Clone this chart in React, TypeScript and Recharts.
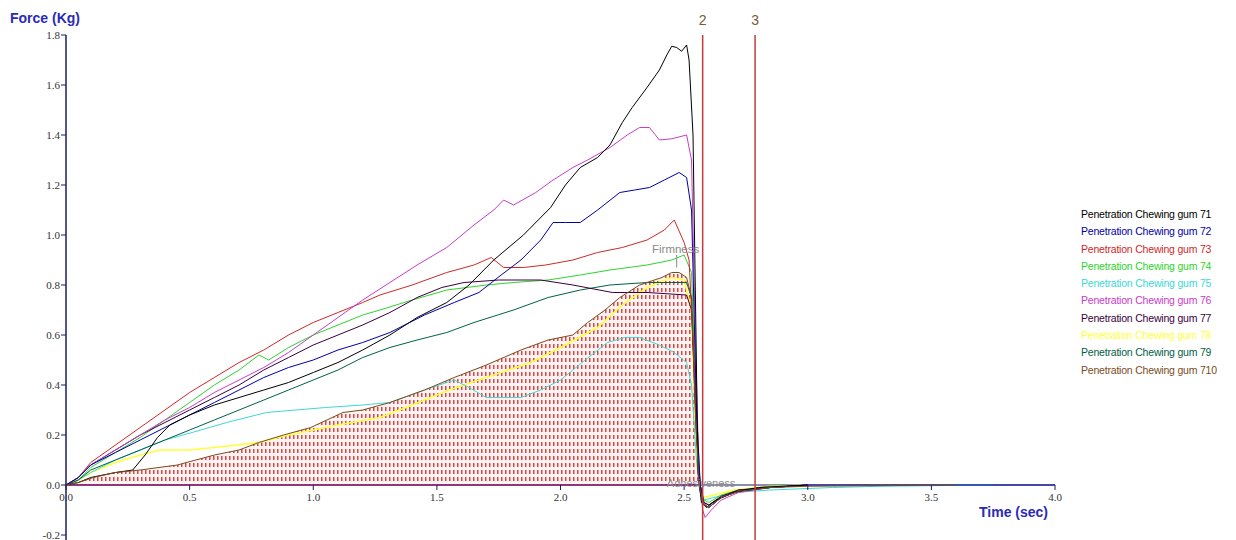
import React from 'react';
import { ComposedChart, Line, Area, XAxis, YAxis, ReferenceLine, ReferenceDot } from 'recharts';

// [time (sec), force (kg)]
const gum71 = [
    [0, 0], [0.05, 0.01], [0.1, 0.03], [0.2, 0.05], [0.27, 0.06], [0.32, 0.12], [0.37, 0.19], [0.42, 0.24],
    [0.5, 0.28], [0.6, 0.32], [0.7, 0.35], [0.8, 0.38], [0.9, 0.41], [1.0, 0.45], [1.1, 0.49], [1.2, 0.54],
    [1.31, 0.6], [1.42, 0.67], [1.54, 0.73], [1.63, 0.8], [1.73, 0.9], [1.85, 1.0], [1.96, 1.11], [2.02, 1.2],
    [2.08, 1.27], [2.15, 1.31], [2.2, 1.36], [2.25, 1.45], [2.29, 1.51], [2.35, 1.59], [2.4, 1.66], [2.43, 1.72],
    [2.45, 1.755], [2.47, 1.75], [2.49, 1.735], [2.51, 1.76], [2.52, 1.7], [2.536, 1.4], [2.548, 0.6], [2.556, 0.05],
    [2.57, -0.07], [2.59, -0.09], [2.63, -0.06], [2.7, -0.03], [2.8, -0.01], [3.0, 0],
];
const gum72 = [
    [0, 0], [0.05, 0.03], [0.1, 0.08], [0.2, 0.13], [0.3, 0.18], [0.4, 0.23], [0.5, 0.28], [0.6, 0.33],
    [0.7, 0.38], [0.8, 0.43], [0.9, 0.47], [1.0, 0.5], [1.1, 0.54], [1.2, 0.57], [1.31, 0.61], [1.45, 0.68],
    [1.57, 0.73], [1.67, 0.77], [1.76, 0.84], [1.84, 0.9], [1.92, 0.98], [1.97, 1.05], [2.02, 1.05], [2.08, 1.05],
    [2.15, 1.1], [2.24, 1.17], [2.3, 1.18], [2.36, 1.19], [2.42, 1.22], [2.48, 1.25], [2.51, 1.23], [2.53, 1.1],
    [2.55, 0.3], [2.565, 0], [2.58, -0.08], [2.6, -0.09], [2.65, -0.05], [2.72, -0.025], [2.85, -0.01], [3.0, 0], [4.0, 0],
];
const gum73 = [
    [0, 0], [0.05, 0.03], [0.1, 0.09], [0.2, 0.16], [0.3, 0.23], [0.4, 0.3], [0.5, 0.37], [0.6, 0.43],
    [0.7, 0.49], [0.8, 0.54], [0.9, 0.6], [1.0, 0.65], [1.1, 0.69], [1.2, 0.73], [1.27, 0.76], [1.4, 0.8],
    [1.54, 0.85], [1.65, 0.88], [1.72, 0.91], [1.77, 0.87], [1.85, 0.87], [1.94, 0.88], [2.05, 0.9], [2.15, 0.93],
    [2.25, 0.95], [2.35, 0.98], [2.42, 1.02], [2.46, 1.06], [2.5, 0.97], [2.52, 0.9], [2.545, 0.4], [2.56, 0],
    [2.575, -0.07], [2.6, -0.09], [2.65, -0.05], [2.72, -0.025], [2.85, -0.01], [3.0, 0],
];
const gum74 = [
    [0, 0], [0.05, 0.02], [0.1, 0.07], [0.2, 0.13], [0.3, 0.19], [0.4, 0.26], [0.5, 0.33], [0.6, 0.4],
    [0.7, 0.46], [0.78, 0.52], [0.82, 0.5], [0.9, 0.55], [1.0, 0.6], [1.1, 0.64], [1.2, 0.68], [1.27, 0.7],
    [1.4, 0.74], [1.54, 0.78], [1.7, 0.8], [1.81, 0.81], [1.95, 0.82], [2.08, 0.84], [2.2, 0.86], [2.35, 0.88],
    [2.45, 0.9], [2.5, 0.92], [2.53, 0.85], [2.55, 0.3], [2.565, 0], [2.58, -0.06], [2.6, -0.07], [2.65, -0.04],
    [2.72, -0.02], [2.85, -0.005], [3.0, 0],
];
const gum75 = [
    [0, 0], [0.05, 0.02], [0.1, 0.05], [0.2, 0.1], [0.3, 0.14], [0.4, 0.18], [0.51, 0.21], [0.65, 0.25],
    [0.81, 0.29], [1.05, 0.31], [1.2, 0.32], [1.31, 0.33], [1.45, 0.38], [1.57, 0.42], [1.63, 0.39], [1.7, 0.35],
    [1.84, 0.35], [1.92, 0.38], [2.0, 0.42], [2.1, 0.5], [2.19, 0.57], [2.26, 0.59], [2.32, 0.59], [2.4, 0.56],
    [2.46, 0.53], [2.51, 0.49], [2.53, 0.4], [2.55, 0.1], [2.565, -0.03], [2.58, -0.06], [2.62, -0.05], [2.7, -0.03],
    [2.85, -0.02], [3.1, -0.01], [3.3, -0.005], [3.75, 0],
];
const gum76 = [
    [0, 0], [0.05, 0.03], [0.1, 0.08], [0.2, 0.14], [0.3, 0.2], [0.4, 0.26], [0.5, 0.31], [0.6, 0.37],
    [0.7, 0.42], [0.8, 0.47], [0.9, 0.53], [1.0, 0.6], [1.1, 0.67], [1.2, 0.74], [1.31, 0.81], [1.42, 0.88],
    [1.54, 0.95], [1.65, 1.04], [1.73, 1.1], [1.77, 1.14], [1.81, 1.12], [1.9, 1.17], [1.97, 1.22], [2.05, 1.27],
    [2.11, 1.3], [2.2, 1.35], [2.27, 1.4], [2.32, 1.43], [2.36, 1.43], [2.4, 1.38], [2.45, 1.385], [2.51, 1.4],
    [2.53, 1.3], [2.545, 0.6], [2.56, 0.05], [2.575, -0.1], [2.585, -0.13], [2.61, -0.1], [2.65, -0.06], [2.72, -0.03],
    [2.85, -0.01], [3.0, 0],
];
const gum77 = [
    [0, 0], [0.05, 0.03], [0.1, 0.08], [0.2, 0.14], [0.3, 0.2], [0.4, 0.25], [0.5, 0.3], [0.6, 0.35],
    [0.7, 0.4], [0.8, 0.46], [0.9, 0.51], [1.0, 0.56], [1.1, 0.6], [1.2, 0.64], [1.31, 0.69], [1.42, 0.75],
    [1.52, 0.79], [1.61, 0.81], [1.75, 0.82], [1.92, 0.82], [2.05, 0.8], [2.21, 0.77], [2.35, 0.77], [2.51, 0.76],
    [2.53, 0.7], [2.55, 0.2], [2.565, 0], [2.58, -0.07], [2.6, -0.08], [2.65, -0.045], [2.72, -0.02], [2.85, -0.01], [3.0, 0],
];
const gum78 = [
    [0, 0], [0.05, 0.02], [0.1, 0.05], [0.2, 0.09], [0.3, 0.12], [0.38, 0.14], [0.5, 0.14], [0.6, 0.15],
    [0.78, 0.17], [0.9, 0.2], [1.0, 0.22], [1.1, 0.24], [1.27, 0.27], [1.4, 0.32], [1.55, 0.38], [1.7, 0.43],
    [1.88, 0.49], [2.0, 0.55], [2.15, 0.63], [2.25, 0.72], [2.35, 0.79], [2.45, 0.83], [2.5, 0.82], [2.53, 0.7],
    [2.55, 0.1], [2.565, -0.02], [2.58, -0.05], [2.62, -0.04], [2.7, -0.02], [2.85, -0.005], [3.0, 0],
];
const gum79 = [
    [0, 0], [0.05, 0.02], [0.1, 0.06], [0.2, 0.1], [0.3, 0.14], [0.4, 0.18], [0.5, 0.22], [0.6, 0.26],
    [0.7, 0.3], [0.8, 0.34], [0.9, 0.38], [1.0, 0.42], [1.1, 0.46], [1.2, 0.51], [1.31, 0.55], [1.42, 0.58],
    [1.54, 0.61], [1.65, 0.65], [1.81, 0.7], [1.95, 0.75], [2.08, 0.78], [2.2, 0.8], [2.35, 0.81], [2.45, 0.81],
    [2.51, 0.81], [2.53, 0.75], [2.55, 0.2], [2.565, 0], [2.58, -0.07], [2.6, -0.08], [2.65, -0.05], [2.72, -0.02],
    [2.85, -0.01], [3.0, 0],
];
const gum710 = [
    [0, 0], [0.05, 0.01], [0.11, 0.03], [0.2, 0.05], [0.3, 0.06], [0.45, 0.08], [0.6, 0.12], [0.7, 0.14],
    [0.78, 0.17], [0.88, 0.2], [0.99, 0.23], [1.12, 0.29], [1.2, 0.3], [1.31, 0.33], [1.45, 0.38], [1.57, 0.43],
    [1.7, 0.48], [1.84, 0.54], [1.95, 0.58], [2.05, 0.6], [2.11, 0.65], [2.18, 0.7], [2.24, 0.75], [2.32, 0.8],
    [2.41, 0.83], [2.45, 0.85], [2.48, 0.85], [2.51, 0.83], [2.53, 0.75], [2.545, 0.3], [2.56, 0], [2.58, -0.08],
    [2.6, -0.09], [2.65, -0.05], [2.72, -0.025], [2.85, -0.01], [3.0, -0.005], [3.6, 0],
];

const seriesNames = [
    'Penetration Chewing gum 71', 'Penetration Chewing gum 72', 'Penetration Chewing gum 73',
    'Penetration Chewing gum 74', 'Penetration Chewing gum 75', 'Penetration Chewing gum 76',
    'Penetration Chewing gum 77', 'Penetration Chewing gum 78', 'Penetration Chewing gum 79',
    'Penetration Chewing gum 710',
];
const seriesColors = ['#000000', '#0000a8', '#d02828', '#2ed42e', '#3cd8d8', '#c83cc8', '#3a0040', '#ffff3c', '#006048', '#7a4c1c'];
const seriesData = [gum71, gum72, gum73, gum74, gum75, gum76, gum77, gum78, gum79, gum710];
// drawing order: pale ones first so the dark traces sit on top
const drawOrder = [7, 4, 3, 8, 6, 2, 5, 1, 0, 9];

const yTicks = [-0.2, 0, 0.2, 0.4, 0.6, 0.8, 1.0, 1.2, 1.4, 1.6, 1.8];
const xTicks = [0, 0.5, 1.0, 1.5, 2.0, 2.5, 3.0, 3.5, 4.0];
const markerTimes = [2.575, 2.787];
const markerLabels = ['2', '3'];
const areaEnd = 2.56; // firmness area is integrated on gum 710 up to here

const toPts = (arr: number[][]) => arr.map(([t, f]) => ({ t, f }));

const AXIS = '#1c1c60';
const serif = '"Liberation Serif", "DejaVu Serif", serif';
const sans = '"Liberation Sans", Arial, sans-serif';

const App = () => {
    const hatchData = toPts(gum710.filter(p => p[0] <= areaEnd));

    return (
        <div style={{ position: 'absolute', left: 0, top: 0, width: 1236, height: 540, background: '#fff' }}>
            <ComposedChart width={1236} height={540} margin={{ top: 35, right: 181, bottom: 0, left: 6 }}>
                <defs>
                    <pattern id="hatch" x="0" y="0" width="4" height="7" patternUnits="userSpaceOnUse">
                        <rect x="0" y="0" width="4" height="7" fill="#fdf3f3" />
                        <rect x="1" y="1" width="1.5" height="4" fill="#d84646" />
                    </pattern>
                </defs>
                <XAxis type="number" dataKey="t" domain={[0, 4]} hide allowDataOverflow />
                <YAxis
                    type="number"
                    domain={[-0.22, 1.8]}
                    ticks={yTicks}
                    interval={0}
                    width={60}
                    allowDataOverflow
                    tickSize={5}
                    tickMargin={1}
                    tickFormatter={(v: number) => v.toFixed(1)}
                    axisLine={{ stroke: AXIS, strokeWidth: 1.5 }}
                    tickLine={{ stroke: AXIS }}
                    tick={{ fontFamily: serif, fontSize: 11, fill: '#333' }}
                />

                <Area
                    data={hatchData}
                    dataKey="f"
                    type="linear"
                    baseValue={0}
                    fill="url(#hatch)"
                    fillOpacity={1}
                    stroke="none"
                    isAnimationActive={false}
                />

                {/* x axis drawn at force = 0 */}
                <ReferenceLine y={0} stroke={AXIS} strokeWidth={1.2} />
                <ReferenceLine segment={[{ x: 0, y: 0 }, { x: areaEnd, y: 0 }]} stroke="#902070" strokeWidth={1.5} />
                {xTicks.map(t => (
                    <ReferenceDot
                        key={t}
                        x={t}
                        y={0}
                        shape={(p: any) => (
                            <g>
                                <line x1={p.cx} y1={p.cy} x2={p.cx} y2={p.cy + 5} stroke={AXIS} />
                                <text x={p.cx} y={p.cy + 16} textAnchor="middle" fontFamily={serif} fontSize={11} fill="#333">
                                    {t.toFixed(1)}
                                </text>
                            </g>
                        )}
                    />
                ))}

                {drawOrder.map(i => (
                    <Line
                        key={seriesNames[i]}
                        data={toPts(seriesData[i])}
                        dataKey="f"
                        name={seriesNames[i]}
                        type="linear"
                        stroke={seriesColors[i]}
                        strokeWidth={i === 7 ? 1.6 : 1}
                        dot={false}
                        activeDot={false}
                        isAnimationActive={false}
                    />
                ))}

                {markerTimes.map((t, i) => (
                    <ReferenceLine
                        key={t}
                        x={t}
                        stroke="#c83a3a"
                        strokeWidth={1.5}
                        label={{ value: markerLabels[i], position: 'top', offset: 10, fill: '#7a5a30', fontSize: 14, fontFamily: sans }}
                    />
                ))}

                <ReferenceLine segment={[{ x: 2.47, y: 0.92 }, { x: 2.47, y: 0.87 }]} stroke="#888" />
                <ReferenceDot
                    x={2.37}
                    y={0.93}
                    shape={(p: any) => (
                        <text x={p.cx} y={p.cy} fontFamily={sans} fontSize={11.5} fill="#8a8a8a">Firmness</text>
                    )}
                />
                <ReferenceDot
                    x={2.43}
                    y={0}
                    shape={(p: any) => (
                        <text x={p.cx} y={p.cy + 2} fontFamily={sans} fontSize={11} fill="#8a8a8a">Adhesiveness</text>
                    )}
                />
            </ComposedChart>

            <div style={{ position: 'absolute', left: 10, top: 10, fontFamily: sans, fontWeight: 'bold', fontSize: 14, color: '#2a2ab8' }}>
                Force (Kg)
            </div>
            <div style={{ position: 'absolute', left: 979, top: 504, fontFamily: sans, fontWeight: 'bold', fontSize: 14, color: '#2a2ab8' }}>
                Time (sec)
            </div>

            <div style={{ position: 'absolute', left: 1081, top: 206 }}>
                {seriesNames.map((name, i) => (
                    <div
                        key={name}
                        style={{ fontFamily: sans, fontSize: 10.5, lineHeight: '17.3px', height: 17.3, color: seriesColors[i], whiteSpace: 'nowrap', letterSpacing: -0.2 }}
                    >
                        {name}
                    </div>
                ))}
            </div>
        </div>
    );
};

export default App;
